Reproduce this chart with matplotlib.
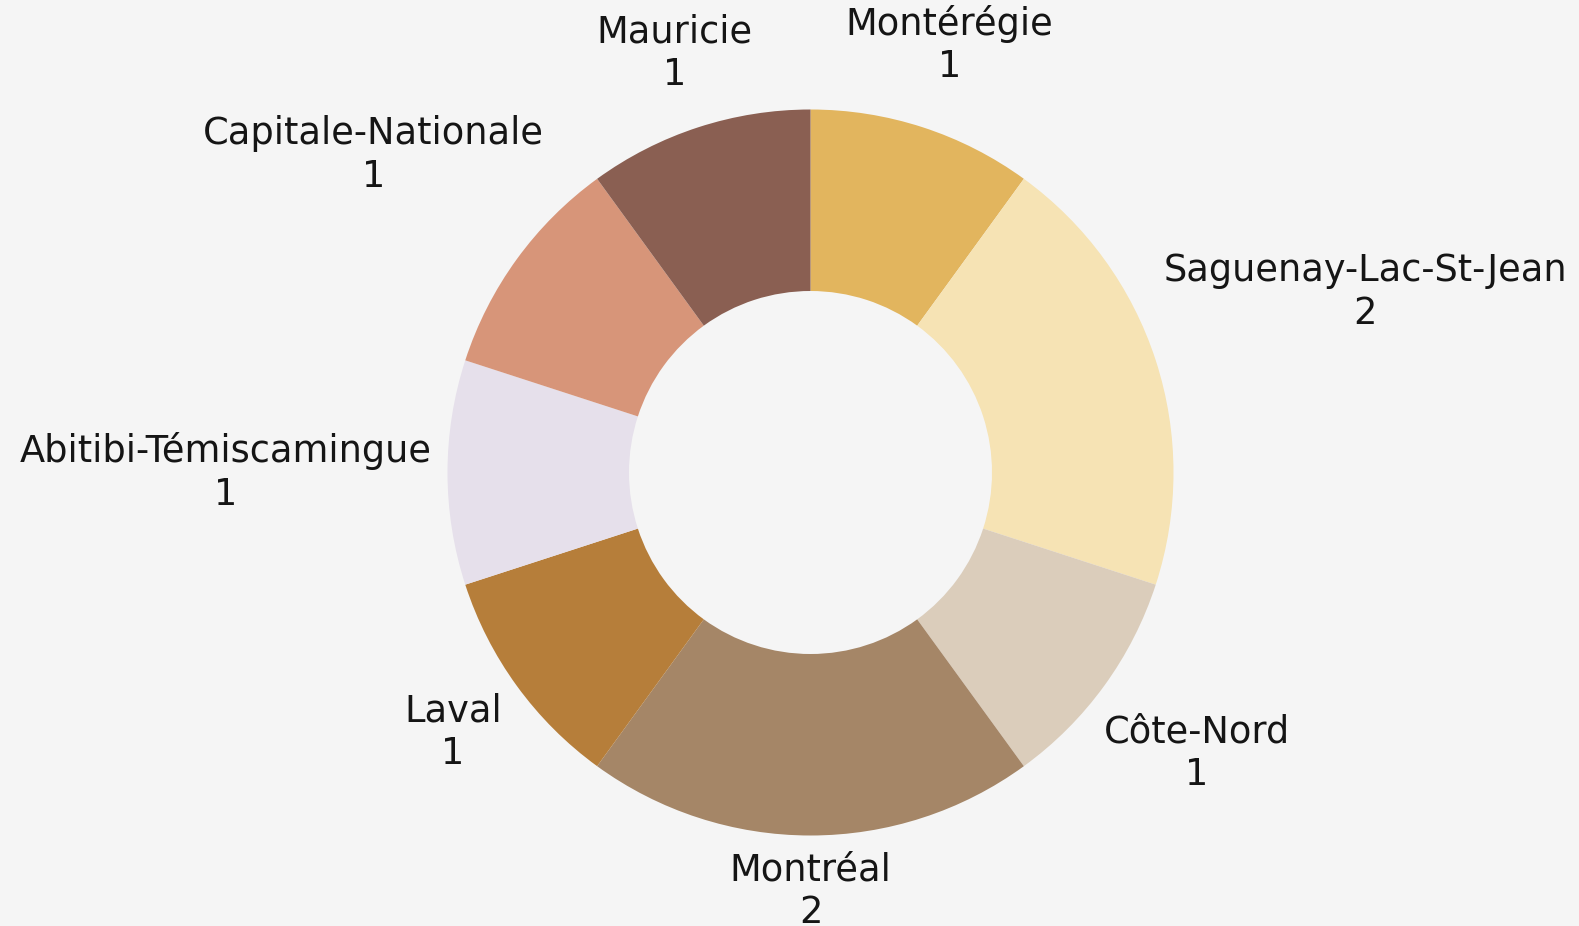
import matplotlib
matplotlib.use("Agg")
import matplotlib.pyplot as plt
import numpy as np

regions = ["Montérégie", "Saguenay-Lac-St-Jean", "Côte-Nord", "Montréal",
           "Laval", "Abitibi-Témiscamingue", "Capitale-Nationale", "Mauricie"]
counts = [1, 2, 1, 2, 1, 1, 1, 1]
colors = ["#E2B55E", "#F6E3B4", "#DBCDBB", "#A58667",
          "#B67E3A", "#E6E0EB", "#D79579", "#8A5F52"]

W, H = 1579, 926
BG = "#F5F5F5"
fig = plt.figure(figsize=(W / 100, H / 100), dpi=100, facecolor=BG)
ax = fig.add_axes([0, 0, 1, 1])
ax.set_facecolor(BG)

cx, cy = 810.5, H - 472.5
R = 363
wedges, _ = ax.pie(counts, colors=colors, startangle=90, counterclock=False,
                   radius=R, center=(cx, cy), frame=True,
                   wedgeprops=dict(width=R * 0.5, linewidth=0))
ax.set_xlim(0, W)
ax.set_ylim(0, H)
ax.set_aspect("equal")
ax.axis("off")

texts = []
for w, name, v in zip(wedges, regions, counts):
    t = ax.text(0, 0, f"{name}\n{v}", ha="center", va="center",
                multialignment="center", fontsize=26.5, linespacing=1.2,
                color="#151515", family="DejaVu Sans")
    texts.append((w, t))

fig.canvas.draw()
renderer = fig.canvas.get_renderer()
pad = 16
for w, t in texts:
    bb = t.get_window_extent(renderer)
    a, b = bb.width / 2, bb.height / 2
    th = np.deg2rad((w.theta1 + w.theta2) / 2)
    c, s = np.cos(th), np.sin(th)
    r = R + pad + a * abs(c) + b * abs(s)
    t.set_position((cx + r * c, cy + r * s))

fig.savefig("out.png", dpi=100, facecolor=BG)
